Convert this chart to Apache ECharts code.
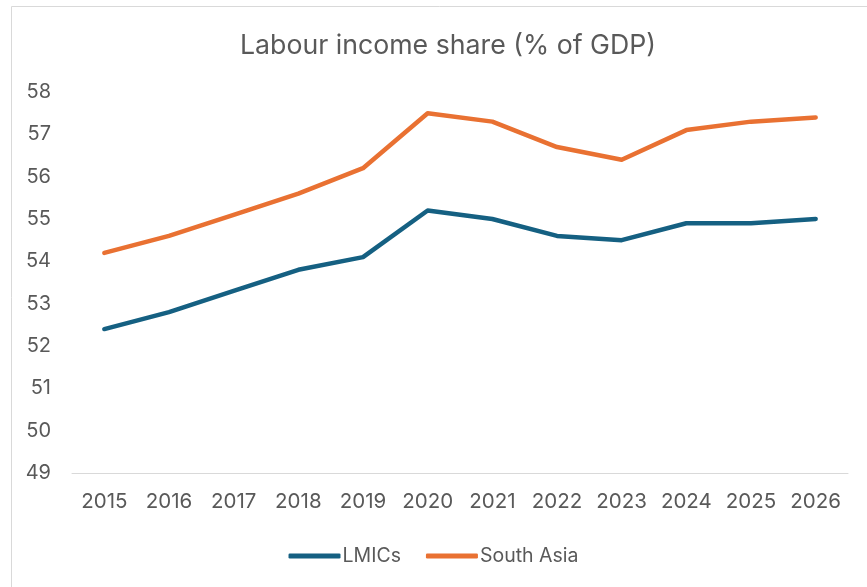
<!DOCTYPE html>
<html>
<head>
<meta charset="utf-8">
<script src="https://cdn.jsdelivr.net/npm/echarts@6/dist/echarts.min.js"></script>
<style>
  body { margin: 0; background: #fff; }
  #chart { width: 867px; height: 587px; }
</style>
</head>
<body>
<div id="chart"></div>
<script>
// data
const years = ['2015', '2016', '2017', '2018', '2019', '2020', '2021', '2022', '2023', '2024', '2025', '2026'];
const lmics = [52.4, 52.8, 53.3, 53.8, 54.1, 55.2, 55.0, 54.6, 54.5, 54.9, 54.9, 55.0];
const southAsia = [54.2, 54.6, 55.1, 55.6, 56.2, 57.5, 57.3, 56.7, 56.4, 57.1, 57.3, 57.4];

const font = 'Inter, "Noto Sans", sans-serif';
const textColor = '#595959';

const myChart = echarts.init(document.getElementById('chart'));

const option = {
  animation: false,
  // chart frame border
  graphic: [{
    type: 'rect',
    shape: { x: 11.5, y: 6.5, width: 900, height: 700 },
    style: { fill: 'none', stroke: '#d9d9d9', lineWidth: 1 },
    silent: true
  }],
  title: {
    text: 'Labour income share (% of GDP)',
    left: 443,
    textAlign: 'center',
    top: 27,
    textStyle: { fontFamily: font, fontSize: 26.7, fontWeight: 'normal', color: textColor }
  },
  legend: {
    data: ['LMICs', 'South Asia'],
    left: 'center',
    top: 541,
    itemWidth: 52,
    itemHeight: 5,
    itemGap: 25,
    icon: 'roundRect',
    textStyle: { fontFamily: font, fontSize: 19.5, color: textColor, padding: [0, 0, 0, -3] }
  },
  grid: { left: 72, right: 19, top: 92, bottom: 114 },
  xAxis: {
    type: 'category',
    data: years,
    boundaryGap: true,
    axisLine: { lineStyle: { color: '#d9d9d9', width: 1 } },
    axisTick: { show: false },
    axisLabel: { interval: 0, fontFamily: font, fontSize: 20.5, color: textColor, margin: 18 }
  },
  yAxis: {
    type: 'value',
    min: 49,
    max: 58,
    interval: 1,
    splitLine: { show: false },
    axisLine: { show: false },
    axisTick: { show: false },
    axisLabel: { fontFamily: font, fontSize: 20, color: textColor, margin: 21 }
  },
  series: [{
    name: 'LMICs',
    type: 'line',
    data: lmics,
    symbol: 'none',
    color: '#156082',
    lineStyle: { width: 4.5, cap: 'round', join: 'round' }
  }, {
    name: 'South Asia',
    type: 'line',
    data: southAsia,
    symbol: 'none',
    color: '#E97132',
    lineStyle: { width: 4.5, cap: 'round', join: 'round' }
  }]
};

myChart.setOption(option);
</script>
</body>
</html>
